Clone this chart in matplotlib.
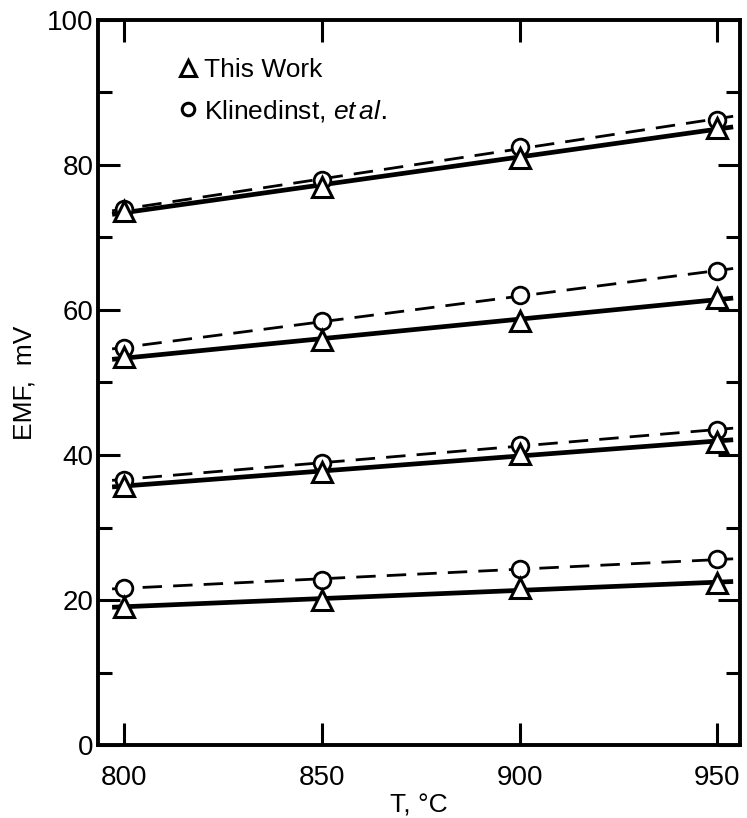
import numpy as np
import matplotlib
matplotlib.use('Agg')
import matplotlib.pyplot as plt
from matplotlib.lines import Line2D
from matplotlib.ticker import MultipleLocator

plt.rcParams['font.family'] = 'Liberation Sans'
plt.rcParams['mathtext.fontset'] = 'custom'
plt.rcParams['mathtext.it'] = 'Liberation Sans:italic'

# ── EMF readings (mV) vs temperature, four cells ─────────────────────────────
temp = [800, 850, 900, 950]

# This work (triangles, solid fit)
this_1 = [19.1, 20.0, 21.7, 22.3]
this_2 = [35.7, 37.7, 40.1, 41.8]
this_3 = [53.5, 55.9, 58.5, 61.6]
this_4 = [73.6, 77.0, 80.9, 85.1]

# Klinedinst et al. (circles, dashed fit)
klin_1 = [21.7, 22.8, 24.3, 25.6]
klin_2 = [36.6, 38.9, 41.4, 43.4]
klin_3 = [54.7, 58.5, 62.0, 65.3]
klin_4 = [73.9, 77.9, 82.5, 86.2]

fit_range = [797, 954]

fig = plt.figure(figsize=(7.47, 8.18), dpi=100)
ax = fig.add_axes([0.131, 0.089, 0.860, 0.887])

x = np.array(temp, dtype=float)
xf = np.linspace(fit_range[0], fit_range[1], 2)

for ys in [klin_1, klin_2, klin_3, klin_4]:
    c = np.polyfit(x, ys, 1)
    ax.plot(xf, np.polyval(c, xf), color='k', lw=2.0, ls=(0, (7, 4)), zorder=2)
for ys in [this_1, this_2, this_3, this_4]:
    c = np.polyfit(x, ys, 1)
    ax.plot(xf, np.polyval(c, xf), color='k', lw=3.4, solid_capstyle='butt', zorder=2)

for ys in [klin_1, klin_2, klin_3, klin_4]:
    ax.plot(x, ys, 'o', ms=12, mfc='white', mec='k', mew=2.0, zorder=3)
for ys in [this_1, this_2, this_3, this_4]:
    ax.plot(x, ys, '^', ms=15, mfc='white', mec='k', mew=2.2, zorder=4)

ax.set_xlim(793.4, 955.8)
ax.set_ylim(0, 100)
ax.xaxis.set_major_locator(MultipleLocator(50))
ax.yaxis.set_major_locator(MultipleLocator(20))
ax.yaxis.set_minor_locator(MultipleLocator(10))

ax.tick_params(which='both', direction='in', top=True, right=True,
               labelsize=20, width=2.2)
ax.tick_params(which='major', length=16)
ax.tick_params(which='minor', length=10)
ax.tick_params(axis='x', which='major', pad=14)
ax.tick_params(axis='y', which='major', pad=3)
for sp in ax.spines.values():
    sp.set_linewidth(2.8)

ax.set_xlabel('T, °C', fontsize=19, labelpad=2)
ax.set_ylabel('EMF,  mV', fontsize=19, labelpad=8)

handles = [
    Line2D([], [], ls='none', marker='^', ms=11, mfc='white', mec='k', mew=2.2),
    Line2D([], [], ls='none', marker='o', ms=9, mfc='white', mec='k', mew=2.2),
]
ax.legend(handles, ['This Work', r'Klinedinst, $\it{et\,al.}$'],
          loc='upper left', bbox_to_anchor=(0.112, 0.962), frameon=False,
          fontsize=19, handlelength=0.6, handletextpad=0.3, labelspacing=0.6,
          borderaxespad=0)

fig.savefig('out.png', dpi=100)
